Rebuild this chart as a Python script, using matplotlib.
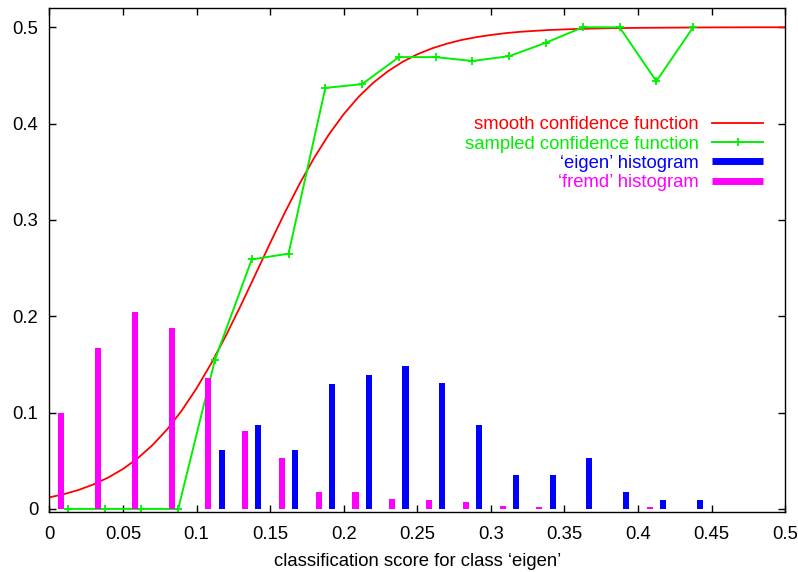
import matplotlib
matplotlib.use("Agg")
import matplotlib.pyplot as plt
import numpy as np

plt.rcParams['font.family'] = ['Liberation Sans', 'DejaVu Sans']

# ---- data ----
bin_centers = [0.0125, 0.0375, 0.0625, 0.0875, 0.1125, 0.1375, 0.1625, 0.1875, 0.2125,
               0.2375, 0.2625, 0.2875, 0.3125, 0.3375, 0.3625, 0.3875, 0.4125, 0.4375]
fremd_hist = [0.100, 0.167, 0.204, 0.188, 0.136, 0.081, 0.053, 0.018, 0.018,
              0.010, 0.009, 0.007, 0.003, 0.002, 0.0, 0.0, 0.002, 0.0]
eigen_hist = [0.0, 0.0, 0.0, 0.0, 0.061, 0.087, 0.061, 0.130, 0.139,
              0.148, 0.131, 0.087, 0.035, 0.035, 0.053, 0.018, 0.009, 0.009]
sampled_conf = [0.0, 0.0, 0.0, 0.0, 0.155, 0.259, 0.265, 0.437, 0.441,
                0.469, 0.469, 0.465, 0.470, 0.484, 0.500, 0.500, 0.444, 0.500]

smooth_x = [0.00, 0.01, 0.02, 0.03, 0.04, 0.05, 0.06, 0.07, 0.08, 0.09, 0.10, 0.11, 0.12,
            0.13, 0.14, 0.15, 0.16, 0.17, 0.18, 0.19, 0.20, 0.21, 0.22, 0.23, 0.24, 0.25,
            0.26, 0.27, 0.28, 0.29, 0.30, 0.31, 0.32, 0.33, 0.34, 0.35, 0.36, 0.38, 0.40,
            0.42, 0.44, 0.46, 0.48, 0.50]
smooth_conf = [0.0120, 0.0154, 0.0198, 0.0255, 0.0326, 0.0415, 0.0526, 0.0662, 0.0826,
               0.1023, 0.1252, 0.1512, 0.1801, 0.2111, 0.2434, 0.2760, 0.3077, 0.3375,
               0.3647, 0.3889, 0.4098, 0.4276, 0.4423, 0.4543, 0.4641, 0.4719, 0.4781,
               0.4829, 0.4868, 0.4897, 0.4920, 0.4939, 0.4953, 0.4963, 0.4972, 0.4978,
               0.4983, 0.4990, 0.4994, 0.4996, 0.4998, 0.4999, 0.5000, 0.5000]

x_ticks = [0, 0.05, 0.1, 0.15, 0.2, 0.25, 0.3, 0.35, 0.4, 0.45, 0.5]
x_tick_labels = ['0', '0.05', '0.1', '0.15', '0.2', '0.25', '0.3', '0.35', '0.4', '0.45', '0.5']
y_ticks = [0, 0.1, 0.2, 0.3, 0.4, 0.5]
y_tick_labels = ['0', '0.1', '0.2', '0.3', '0.4', '0.5']

bar_offset = 0.0045
bar_width = 0.0041
FS = 13.3

fig = plt.figure(figsize=(7.98, 5.72), dpi=100)
ax = fig.add_axes([0.062, 0.1044, 0.9218, 0.8816])

red = '#ff0000'
green = '#00f000'
blue = '#0000ff'
magenta = '#ff00ff'

ax.plot(smooth_x, smooth_conf, color=red, lw=1.3, label='smooth confidence function', zorder=2)
ax.plot(bin_centers, sampled_conf, color=green, lw=1.4, marker='+', ms=5.5, mew=1.3,
        label='sampled confidence function', zorder=2)

xe = np.array(bin_centers) + bar_offset
xf = np.array(bin_centers) - bar_offset
ax.bar(xe, eigen_hist, width=bar_width, color=blue, linewidth=0, zorder=3)
ax.bar(xf, fremd_hist, width=bar_width, color=magenta, linewidth=0, zorder=3)
ax.plot([], [], color=blue, lw=5, solid_capstyle='butt', label="\u2018eigen\u2019 histogram")
ax.plot([], [], color=magenta, lw=5, solid_capstyle='butt', label="\u2018fremd\u2019 histogram")

ax.set_xlim(0, 0.5)
ax.set_ylim(-0.0035, 0.52)
ax.set_xticks(x_ticks)
ax.set_xticklabels(x_tick_labels)
ax.set_yticks(y_ticks)
ax.set_yticklabels(y_tick_labels)
ax.tick_params(direction='in', length=5, width=1, top=True, right=True,
               labelsize=FS, colors='black')
ax.tick_params(axis='x', pad=10)
ax.tick_params(axis='y', pad=8)
for s in ax.spines.values():
    s.set_linewidth(1.0)
    s.set_color('black')

ax.set_xlabel("classification score for class \u2018eigen\u2019", fontsize=FS, labelpad=7)

leg = ax.legend(loc='upper right', bbox_to_anchor=(0.970, 0.785), frameon=False,
                markerfirst=False, fontsize=FS, handlelength=2.76, handletextpad=0.7,
                labelspacing=0.12, borderpad=0, borderaxespad=0, labelcolor='linecolor')

fig.savefig('out.png', dpi=100)
